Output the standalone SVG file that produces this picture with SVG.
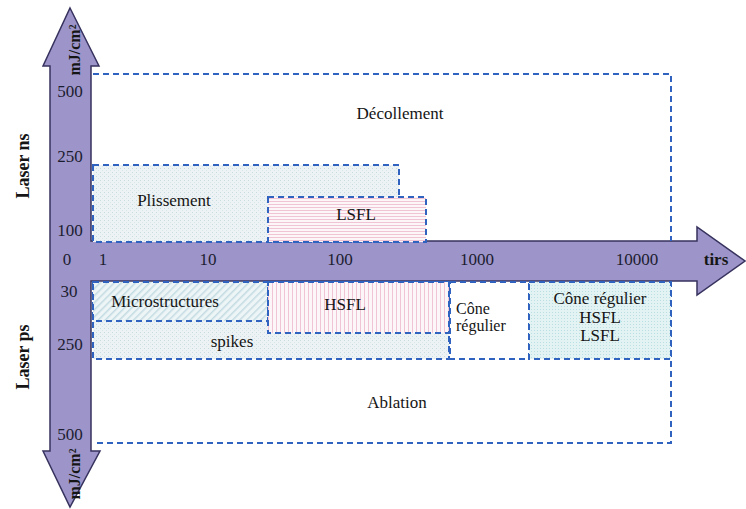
<svg xmlns="http://www.w3.org/2000/svg" width="746" height="509" viewBox="0 0 746 509">
<style>
.box{stroke:#2f63bf;stroke-width:2;stroke-dasharray:6 4;}
.open{fill:none;stroke:#2f63bf;stroke-width:2;stroke-dasharray:6 4;}
.t{font-family:"Liberation Serif","Times New Roman",serif;font-size:17px;fill:#151515;}
.c{text-anchor:middle;}
.b{font-weight:bold;}
.tick{font-family:"Liberation Serif","Times New Roman",serif;font-size:17px;fill:#1c1c30;text-anchor:middle;}
</style>
<defs>
<pattern id="pStip" width="4" height="4" patternUnits="userSpaceOnUse">
<rect width="4" height="4" fill="#edf3f4"/>
<rect x="0" y="0" width="1" height="1" fill="#c8dde1"/>
<rect x="2" y="2" width="1" height="1" fill="#d6e6e9"/>
</pattern>
<pattern id="pH" width="4" height="3" patternUnits="userSpaceOnUse">
<rect width="4" height="3" fill="#fdf6f9"/>
<rect x="0" y="0" width="4" height="1" fill="#f0c3d5"/>
</pattern>
<pattern id="pV" width="4" height="4" patternUnits="userSpaceOnUse">
<rect width="4" height="4" fill="#fdf6f9"/>
<rect x="0" y="0" width="1" height="4" fill="#f0c3d5"/>
</pattern>
<pattern id="pDiag" width="5" height="5" patternUnits="userSpaceOnUse" patternTransform="rotate(45)">
<rect width="5" height="5" fill="#eef5f6"/>
<rect x="0" y="0" width="1.5" height="5" fill="#c3dbe2"/>
</pattern>
<pattern id="pCyan" width="3" height="3" patternUnits="userSpaceOnUse">
<rect width="3" height="3" fill="#e3f3f4"/>
<rect x="0" y="0" width="1" height="1" fill="#b9dfe3"/>
</pattern>
</defs>

<g id="axes">
<polygon points="70,8 99,66 91,66 91,241 697,241 697,227 745,261 697,295 697,281 91,281 91,451 100,451 70,507 43,451 50,451 50,66 43,66" fill="#9d95c9" stroke="#36325e" stroke-width="1.5" stroke-linejoin="miter"/>
</g>

<g id="connectors">
<path class="open" d="M93,74 H671 V241"/>
<path class="open" d="M671,281 V443 H93"/>
</g>

<g id="decollement">
<text class="t c" x="400" y="119">Décollement</text>
</g>

<g id="plissement">
<rect class="box" x="93" y="165" width="306" height="77" fill="url(#pStip)"/>
<text class="t c" x="174" y="206">Plissement</text>
</g>

<g id="lsfl">
<rect class="box" x="268" y="197" width="158" height="45" fill="url(#pH)"/>
<text class="t c" x="356" y="220">LSFL</text>
</g>

<g id="spikes">
<rect class="box" x="93" y="282" width="356" height="77" fill="url(#pStip)"/>
<text class="t c" x="232" y="347">spikes</text>
</g>

<g id="microstructures">
<rect class="box" x="93" y="282" width="175" height="39" fill="url(#pDiag)"/>
<text class="t c" x="165" y="307">Microstructures</text>
</g>

<g id="hsfl">
<rect class="box" x="268" y="282" width="181" height="51" fill="url(#pV)"/>
<text class="t c" x="345" y="310">HSFL</text>
</g>

<g id="cone1">
<rect class="box" x="450" y="282" width="79" height="77" fill="#ffffff"/>
<text class="t" style="font-size:16px" x="456" y="314">Cône</text>
<text class="t" style="font-size:16px" x="456" y="331">régulier</text>
</g>

<g id="cone2">
<rect class="box" x="529" y="282" width="142" height="77" fill="url(#pCyan)"/>
<text class="t c" x="600" y="304">Cône régulier</text>
<text class="t c" x="600" y="323">HSFL</text>
<text class="t c" x="600" y="341">LSFL</text>
</g>

<g id="ablation">
<text class="t c" x="397" y="408">Ablation</text>
</g>

<g id="ticks">
<text class="tick" x="70" y="97">500</text>
<text class="tick" x="70" y="162">250</text>
<text class="tick" x="70" y="236">100</text>
<text class="tick" x="67" y="265">0</text>
<text class="tick" x="69" y="297">30</text>
<text class="tick" x="70" y="350">250</text>
<text class="tick" x="70" y="440">500</text>
<text class="tick" x="103" y="265">1</text>
<text class="tick" x="208" y="265">10</text>
<text class="tick" x="340" y="265">100</text>
<text class="tick" x="477" y="265">1000</text>
<text class="tick" x="637" y="265">10000</text>
<text class="t b c" x="716" y="265">tirs</text>
</g>

<g id="labels">
<text class="t b c" style="font-size:18px" transform="translate(29,166) rotate(-90)">Laser ns</text>
<text class="t b c" style="font-size:18px" transform="translate(29,357) rotate(-90)">Laser ps</text>
<text class="t b c" style="font-size:16px" transform="translate(80,50) rotate(-90)">mJ/cm²</text>
<text class="t b c" style="font-size:16px" transform="translate(80,474) rotate(-90)">mJ/cm²</text>
</g>
</svg>
